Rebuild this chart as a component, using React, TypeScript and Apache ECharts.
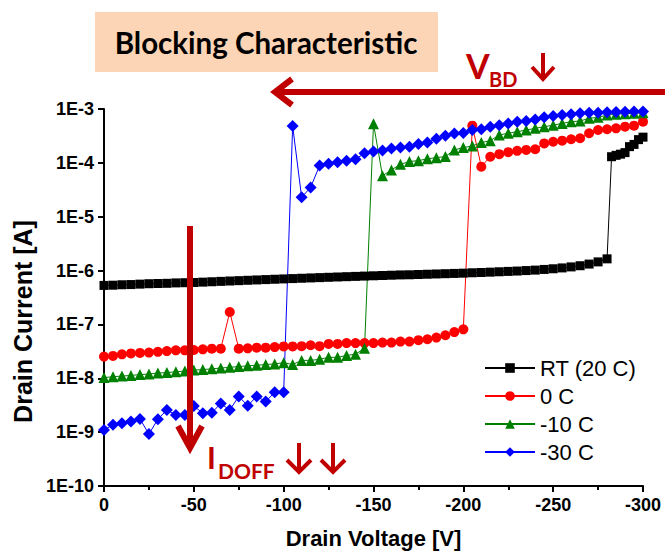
import React, { useEffect, useRef } from "react";
import * as echarts from "echarts";

// ---- data ----
const voltage = [0, -5, -10, -15, -20, -25, -30, -35, -40, -45, -50, -55, -60, -65, -70, -75, -80, -85, -90, -95, -100, -105, -110, -115, -120, -125, -130, -135, -140, -145, -150, -155, -160, -165, -170, -175, -180, -185, -190, -195, -200, -205, -210, -215, -220, -225, -230, -235, -240, -245, -250, -255, -260, -265, -270, -275, -280, -285, -290, -295, -300];

const rtVoltage = [0, -5, -10, -15, -20, -25, -30, -35, -40, -45, -50, -55, -60, -65, -70, -75, -80, -85, -90, -95, -100, -105, -110, -115, -120, -125, -130, -135, -140, -145, -150, -155, -160, -165, -170, -175, -180, -185, -190, -195, -200, -205, -210, -215, -220, -225, -230, -235, -240, -245, -250, -255, -260, -265, -270, -275, -280, -282.5, -285, -287.5, -290, -292.5, -295, -297.5, -300];

const rtCurrent = [
  5.3e-7, 5.35e-7, 5.45e-7, 5.5e-7, 5.6e-7, 5.7e-7, 5.75e-7, 5.8e-7, 5.9e-7, 5.95e-7,
  6.0e-7, 6.1e-7, 6.2e-7, 6.3e-7, 6.4e-7, 6.5e-7, 6.6e-7, 6.7e-7, 6.8e-7, 6.9e-7,
  7.0e-7, 7.1e-7, 7.2e-7, 7.3e-7, 7.4e-7, 7.5e-7, 7.6e-7, 7.7e-7, 7.8e-7, 7.9e-7,
  8.0e-7, 8.1e-7, 8.2e-7, 8.3e-7, 8.35e-7, 8.45e-7, 8.55e-7, 8.65e-7, 8.75e-7, 8.85e-7,
  8.95e-7, 9.1e-7, 9.2e-7, 9.35e-7, 9.5e-7, 9.65e-7, 9.8e-7, 1.0e-6, 1.02e-6, 1.05e-6,
  1.08e-6, 1.12e-6, 1.17e-6, 1.23e-6, 1.32e-6, 1.45e-6, 1.65e-6,
  1.3e-4, 1.38e-4, 1.45e-4, 1.55e-4, 2.0e-4, 2.2e-4, 2.7e-4, 3.0e-4,
];

const zeroCCurrent = [
  2.53e-8, 2.6e-8, 2.78e-8, 2.9e-8, 2.96e-8, 3.0e-8, 3.1e-8, 3.2e-8, 3.3e-8, 3.3e-8,
  3.35e-8, 3.45e-8, 3.55e-8, 3.55e-8, 1.7e-7, 3.55e-8, 3.6e-8, 3.7e-8, 3.7e-8, 3.8e-8,
  3.9e-8, 3.9e-8, 3.95e-8, 4.1e-8, 3.95e-8, 4.35e-8, 4.35e-8, 4.5e-8, 4.5e-8, 4.5e-8,
  4.5e-8, 4.6e-8, 4.6e-8, 4.8e-8, 4.8e-8, 5.1e-8, 5.3e-8, 5.7e-8, 6.3e-8, 7.2e-8,
  8.1e-8, 4.9e-4, 8.5e-5, 1.3e-4, 1.45e-4, 1.58e-4, 1.67e-4, 1.74e-4, 1.79e-4, 2.3e-4,
  2.47e-4, 2.58e-4, 2.74e-4, 2.86e-4, 3.54e-4, 4.07e-4, 4.2e-4, 4.37e-4, 4.7e-4, 4.9e-4, 5.8e-4,
];

const minus10CCurrent = [
  1.03e-8, 1.07e-8, 1.1e-8, 1.13e-8, 1.17e-8, 1.2e-8, 1.25e-8, 1.28e-8, 1.32e-8, 1.36e-8,
  1.42e-8, 1.45e-8, 1.5e-8, 1.55e-8, 1.6e-8, 1.65e-8, 1.7e-8, 1.75e-8, 1.8e-8, 1.85e-8,
  1.95e-8, 1.8e-8, 2.15e-8, 2.15e-8, 2.25e-8, 2.45e-8, 2.45e-8, 2.65e-8, 2.8e-8, 3.6e-8,
  5.3e-4, 5.75e-5, 7.4e-5, 9.4e-5, 1.06e-4, 1.1e-4, 1.19e-4, 1.25e-4, 1.31e-4, 1.74e-4,
  1.92e-4, 2.06e-4, 2.38e-4, 2.58e-4, 3.3e-4, 3.54e-4, 3.8e-4, 4.07e-4, 4.37e-4, 4.7e-4,
  5.0e-4, 5.4e-4, 5.8e-4, 6.0e-4, 6.7e-4, 7.0e-4, 7.7e-4, 8.0e-4, 8.2e-4, 8.3e-4, 8.5e-4,
];

const minus30CCurrent = [
  1.1e-9, 1.37e-9, 1.47e-9, 1.58e-9, 1.76e-9, 9.2e-10, 1.74e-9, 2.58e-9, 2.09e-9, 2.09e-9,
  3.06e-9, 2.25e-9, 2.3e-9, 3.4e-9, 2.58e-9, 4.6e-9, 3.1e-9, 4.6e-9, 3.7e-9, 5.5e-9,
  5.5e-9, 4.84e-4, 2.3e-5, 3.5e-5, 8.9e-5, 9.6e-5, 1.03e-4, 1.1e-4, 1.17e-4, 1.5e-4,
  1.62e-4, 1.7e-4, 1.85e-4, 1.92e-4, 2.0e-4, 2.25e-4, 2.4e-4, 2.8e-4, 3.2e-4, 3.5e-4,
  3.6e-4, 4.07e-4, 4.2e-4, 4.7e-4, 5.0e-4, 5.4e-4, 5.8e-4, 6.0e-4, 6.4e-4, 7.0e-4,
  7.4e-4, 7.7e-4, 8.0e-4, 8.3e-4, 8.5e-4, 8.5e-4, 8.7e-4, 8.8e-4, 8.9e-4, 9.0e-4, 9.0e-4,
];

const seriesNames = ["RT (20 C)", "0 C", "-10 C", "-30 C"];
const seriesColors = ["#000000", "#FF0000", "#008000", "#0000FF"];

const AXIS_FONT = "'Liberation Sans', Arial, sans-serif";
const NOTE_FONT = "Lato, 'Open Sans', sans-serif";
const DARK_RED = "#C00000";

function pairs(xs: number[], ys: number[]) {
  return xs.map((x, i) => [x, ys[i]]);
}

function makeSeries(name: string, color: string, data: number[][], symbol: string, size: number) {
  return {
    name,
    type: "line",
    data,
    symbol,
    symbolSize: size,
    showAllSymbol: true,
    lineStyle: { color, width: 1 },
    itemStyle: { color },
    emphasis: { disabled: true },
  };
}

export default function App() {
  const ref = useRef<HTMLDivElement>(null);

  useEffect(() => {
    if (!ref.current) return;
    const chart = echarts.init(ref.current, null, { renderer: "svg" });
    const option = {
      animation: false,
      backgroundColor: "#ffffff",
      grid: { left: 104, right: 22, top: 109, bottom: 66 },
      xAxis: {
        type: "value",
        min: -300,
        max: 0,
        interval: 50,
        inverse: true,
        name: "Drain Voltage [V]",
        nameLocation: "middle",
        nameGap: 41,
        nameTextStyle: { fontFamily: AXIS_FONT, fontWeight: "bold", fontSize: 22, color: "#000" },
        axisLine: { lineStyle: { color: "#000", width: 2 } },
        axisTick: { show: true, length: 6, lineStyle: { color: "#000", width: 2 } },
        minorTick: { show: true, splitNumber: 2, length: 4, lineStyle: { color: "#000", width: 2 } },
        splitLine: { show: false },
        axisLabel: { fontFamily: AXIS_FONT, fontWeight: "bold", fontSize: 18, color: "#000", margin: 10 },
      },
      yAxis: {
        type: "log",
        logBase: 10,
        min: 1e-10,
        max: 1e-3,
        splitNumber: 7,
        name: "Drain Current [A]",
        nameLocation: "middle",
        nameGap: 64,
        nameTextStyle: { fontFamily: AXIS_FONT, fontWeight: "bold", fontSize: 25, color: "#000", padding: [0, 48, 0, 0] },
        axisLine: { show: true, lineStyle: { color: "#000", width: 2 } },
        axisTick: { show: true, length: 6, lineStyle: { color: "#000", width: 2 } },
        splitLine: { show: false },
        axisLabel: {
          fontFamily: AXIS_FONT,
          fontWeight: "bold",
          fontSize: 18,
          color: "#000",
          margin: 10,
          formatter: (v: number) => "1E" + Math.round(Math.log10(v)),
        },
      },
      legend: {
        data: seriesNames,
        orient: "vertical",
        left: 479,
        top: 352,
        itemWidth: 50,
        itemHeight: 12,
        itemGap: 6,
        textStyle: { fontFamily: AXIS_FONT, fontSize: 22, color: "#000", lineHeight: 22 },
      },
      series: [
        makeSeries(seriesNames[0], seriesColors[0], pairs(rtVoltage, rtCurrent), "rect", 9),
        makeSeries(seriesNames[1], seriesColors[1], pairs(voltage, zeroCCurrent), "circle", 10),
        makeSeries(seriesNames[2], seriesColors[2], pairs(voltage, minus10CCurrent), "triangle", 11),
        makeSeries(seriesNames[3], seriesColors[3], pairs(voltage, minus30CCurrent), "diamond", 12),
      ],
      graphic: [
        { type: "rect", shape: { x: 95, y: 12, width: 343, height: 60 }, style: { fill: "#FBD5B5" }, z: 10 },
        {
          type: "text",
          x: 266,
          y: 42,
          style: { text: "Blocking Characteristic", fontFamily: NOTE_FONT, fontWeight: "bold", fontSize: 29.5, fill: "#000", align: "center", verticalAlign: "middle" },
          z: 11,
        },
        // horizontal V_BD arrow
        { type: "line", shape: { x1: 280, y1: 92, x2: 665, y2: 92 }, style: { stroke: DARK_RED, lineWidth: 6 }, z: 10 },
        { type: "polyline", shape: { points: [[292, 79], [275, 92], [292, 105]] }, style: { stroke: DARK_RED, lineWidth: 6, fill: null, lineJoin: "miter" }, z: 10 },
        { type: "text", x: 466, y: 82, style: { text: "V", fontFamily: NOTE_FONT, fontWeight: "bold", fontSize: 34, fill: DARK_RED, align: "left", verticalAlign: "bottom" }, z: 10 },
        { type: "text", x: 489, y: 89, style: { text: "BD", fontFamily: NOTE_FONT, fontWeight: "bold", fontSize: 20, fill: DARK_RED, align: "left", verticalAlign: "bottom" }, z: 10 },
        { type: "line", shape: { x1: 543, y1: 53, x2: 543, y2: 79 }, style: { stroke: DARK_RED, lineWidth: 4 }, z: 10 },
        { type: "polyline", shape: { points: [[532, 67], [543, 79], [554, 67]] }, style: { stroke: DARK_RED, lineWidth: 4, fill: null }, z: 10 },
        // vertical I_DOFF arrow
        { type: "line", shape: { x1: 190, y1: 226, x2: 190, y2: 446 }, style: { stroke: DARK_RED, lineWidth: 6 }, z: 10 },
        { type: "polyline", shape: { points: [[178, 426], [190, 448], [202, 426]] }, style: { stroke: DARK_RED, lineWidth: 6, fill: null }, z: 10 },
        { type: "text", x: 207, y: 472, style: { text: "I", fontFamily: NOTE_FONT, fontWeight: "bold", fontSize: 30, fill: DARK_RED, align: "left", verticalAlign: "bottom" }, z: 10 },
        { type: "text", x: 218, y: 481, style: { text: "DOFF", fontFamily: NOTE_FONT, fontWeight: "bold", fontSize: 21, fill: DARK_RED, align: "left", verticalAlign: "bottom" }, z: 10 },
        { type: "line", shape: { x1: 299, y1: 443, x2: 299, y2: 472 }, style: { stroke: DARK_RED, lineWidth: 4 }, z: 10 },
        { type: "polyline", shape: { points: [[287, 460], [299, 472], [311, 460]] }, style: { stroke: DARK_RED, lineWidth: 4, fill: null }, z: 10 },
        { type: "line", shape: { x1: 333, y1: 443, x2: 333, y2: 472 }, style: { stroke: DARK_RED, lineWidth: 4 }, z: 10 },
        { type: "polyline", shape: { points: [[321, 460], [333, 472], [345, 460]] }, style: { stroke: DARK_RED, lineWidth: 4, fill: null }, z: 10 },
      ],
    };
    chart.setOption(option as any);
    return () => chart.dispose();
  }, []);

  return (
    <div
      ref={ref}
      style={{ position: "fixed", left: 0, top: 0, width: 665, height: 554, background: "#fff" }}
    />
  );
}
